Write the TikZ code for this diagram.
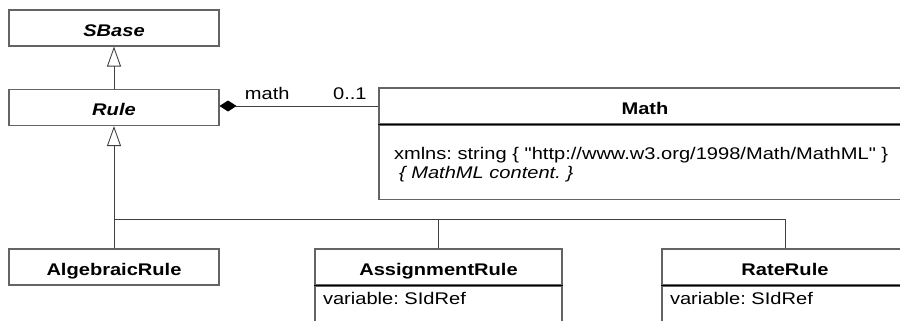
\documentclass[tikz,border=0pt]{standalone}
\usepackage{fontspec}
\setmainfont{Liberation Sans}[FakeStretch=1.19, Ligatures=TeXOff]
\usetikzlibrary{arrows.meta,positioning}
\definecolor{boxgray}{RGB}{100,100,100}

\begin{document}
\frenchspacing
\begin{tikzpicture}[
  font=\fontsize{9.6}{10.4}\selectfont,
  classhead/.style={draw=boxgray, line width=0.6pt, inner sep=0pt, minimum height=0.72cm, text height=0.32cm, text depth=0cm},
  classbody/.style={draw=boxgray, line width=0.6pt, inner xsep=0.16cm, inner ysep=0.12cm, align=left},
  divider/.style={draw=black, line width=0.45pt},
  inherit/.style={draw=black!75, line width=0.5pt},
  genarrow/.style={inherit, -{Triangle[open, length=0.4cm, width=0.28cm, fill=white]}},
  compose/.style={inherit, -{Diamond[length=0.34cm, width=0.22cm, black]}},
  rolelabel/.style={inner sep=0pt, anchor=base}
]
\useasboundingbox (0,0) rectangle (18,6.4);
\clip (0,0) rectangle (18,6.4);

% SBase and Rule
\node[classhead, minimum width=4.2cm] (sbase) at (2.28,5.84) {\textbf{\textit{SBase}}};
\node[classhead, minimum width=4.2cm] (rule) at (2.28,4.25) {\textbf{\textit{Rule}}};
\draw[genarrow] (rule) -- (sbase);

% Math, held by Rule
\node[classhead, minimum width=10.64cm] (math) at (12.9,4.28) {\textbf{Math}};
\node[classbody, below=0pt of math, inner xsep=0.3cm, text width=10.04cm, text height=0.33cm, inner ysep=0.365cm] (mathbody)
  {xmlns: string \{ "http://www.w3.org/1998/Math/MathML" \}\\ \hspace*{0.1cm}\textit{\{ MathML content. \}}};
\draw[divider] (math.south west) -- (math.south east);
\draw[compose] (math.west) -- (math.west -| rule.east)
  node[rolelabel, pos=0.18, yshift=0.14cm] {0..1}
  node[rolelabel, pos=0.7, yshift=0.14cm] {math};

% the three kinds of rule
\node[classhead, minimum width=4.2cm] (algebraic) at (2.28,1.06) {\textbf{AlgebraicRule}};
\node[classhead, minimum width=4.94cm] (assignment) at (8.77,1.06) {\textbf{AssignmentRule}};
\node[classbody, below=0pt of assignment, text width=4.62cm, text height=0.24cm, text depth=0.5cm] (assignbody) {variable: SIdRef};
\draw[divider] (assignment.south west) -- (assignment.south east);
\node[classhead, minimum width=4.92cm] (rate) at (15.7,1.06) {\textbf{RateRule}};
\node[classbody, below=0pt of rate, text width=4.6cm, text height=0.24cm, text depth=0.5cm] (ratebody) {variable: SIdRef};
\draw[divider] (rate.south west) -- (rate.south east);

\coordinate (fork) at (2.28,2.02);
\draw[genarrow] (fork) -- (rule);
\draw[inherit] (algebraic.north) -- (fork) -- (fork -| rate.north) -- (rate.north);
\draw[inherit] (assignment.north) -- (fork -| assignment.north);
\end{tikzpicture}
\end{document}
